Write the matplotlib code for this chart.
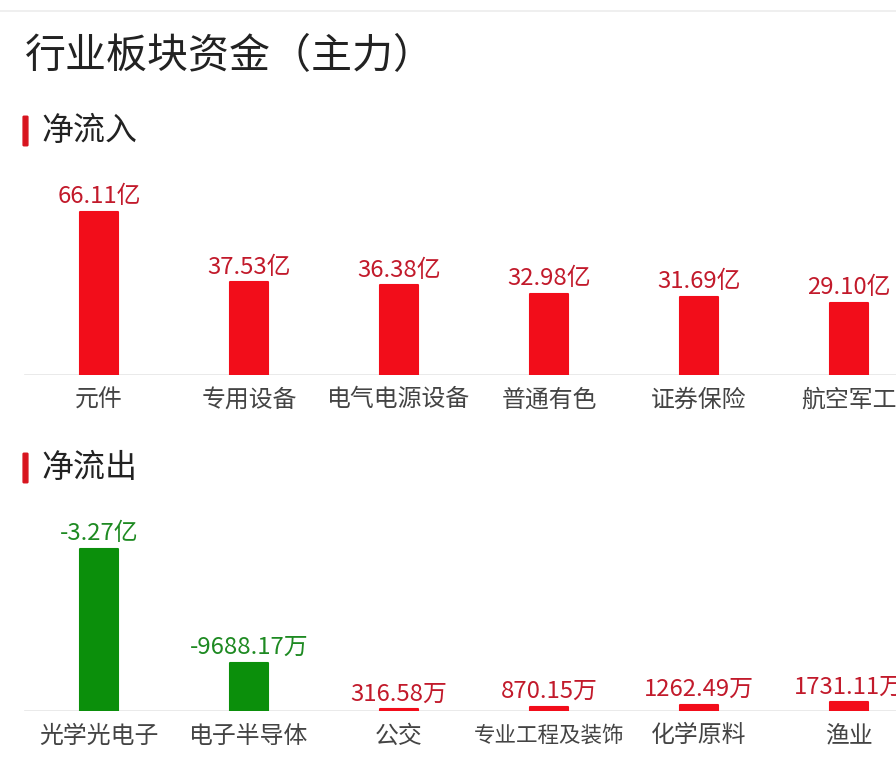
import matplotlib
matplotlib.use("Agg")
import matplotlib.pyplot as plt
import matplotlib.patches as mpatches

plt.rcParams['font.family'] = ['Noto Sans CJK SC', 'DejaVu Sans']

W, H = 896, 777

# net inflow, unit: 亿
in_names = ['元件', '专用设备', '电气电源设备', '普通有色', '证券保险', '航空军工']
in_values = [66.11, 37.53, 36.38, 32.98, 31.69, 29.10]
in_labels = ['66.11亿', '37.53亿', '36.38亿', '32.98亿', '31.69亿', '29.10亿']

# net outflow, unit: 万
out_names = ['光学光电子', '电子半导体', '公交', '专业工程及装饰', '化学原料', '渔业']
out_values = [-32700, -9688.17, 316.58, 870.15, 1262.49, 1731.11]
out_labels = ['-3.27亿', '-9688.17万', '316.58万', '870.15万', '1262.49万', '1731.11万']

RED = '#f20d1a'
GREEN = '#0b8f0b'
RED_TXT = '#c21a2b'
GREEN_TXT = '#1e8a22'
GREY_TXT = '#444444'


def fy(y):
    return 1 - y / H


def draw_bars(ax, names, values, labels, ymax, fs_names):
    heights = [abs(v) for v in values]
    colors = [GREEN if v < 0 else RED for v in values]
    tcolors = [GREEN_TXT if v < 0 else RED_TXT for v in values]
    x = list(range(len(names)))
    bars = ax.bar(x, heights, width=0.255, color=colors, edgecolor=colors,
                  linewidth=1.5, joinstyle='round', zorder=3)
    ax.set_xlim(-0.66, 5.313)
    ax.set_ylim(0, ymax)
    ax.axhline(0, xmin=25 / W, xmax=1, color='#e6e6e6', lw=1.2, zorder=1)
    for b, lab, tc in zip(bars, labels, tcolors):
        ax.annotate(lab, (b.get_x() + b.get_width() / 2, b.get_height()),
                    xytext=(0, 11), textcoords='offset points',
                    ha='center', va='center', fontsize=17.2, color=tc,
                    annotation_clip=False)
    for xi, n, fs in zip(x, names, fs_names):
        ax.annotate(n, (xi, 0), xytext=(0, -18), textcoords='offset points',
                    ha='center', va='center', fontsize=fs, color=GREY_TXT,
                    annotation_clip=False)
    ax.axis('off')


fig = plt.figure(figsize=(W / 100, H / 100), dpi=100)
fig.patch.set_facecolor('white')

# top separator
fig.add_artist(plt.Line2D([0, 1], [fy(11), fy(11)], color='#ececec', lw=1.2))

fig.text(25 / W, fy(57), '行业板块资金（主力）', fontsize=29.5, color='#222222',
         ha='left', va='center', weight='medium')

for yc, txt in [(131, '净流入'), (468, '净流出')]:
    fig.add_artist(mpatches.FancyBboxPatch((24 / W, fy(yc + 14)), 3 / W, 28 / H,
                                           boxstyle='round,pad=0.001',
                                           color='#d8141e', transform=fig.transFigure))
    fig.text(41 / W, fy(yc), txt, fontsize=23, color='#222222',
             ha='left', va='center', weight='medium')

ax1 = fig.add_axes([0, fy(375), 1, 200 / H])
draw_bars(ax1, in_names, in_values, in_labels, 200 / 2.466, [17.2] * 6)

ax2 = fig.add_axes([0, fy(711), 1, 200 / H])
draw_bars(ax2, out_names, out_values, out_labels, 200 / 0.00495,
          [17.2, 17.2, 17.2, 15.5, 17.2, 17.2])

fig.savefig('out.png', dpi=100, facecolor='white')
